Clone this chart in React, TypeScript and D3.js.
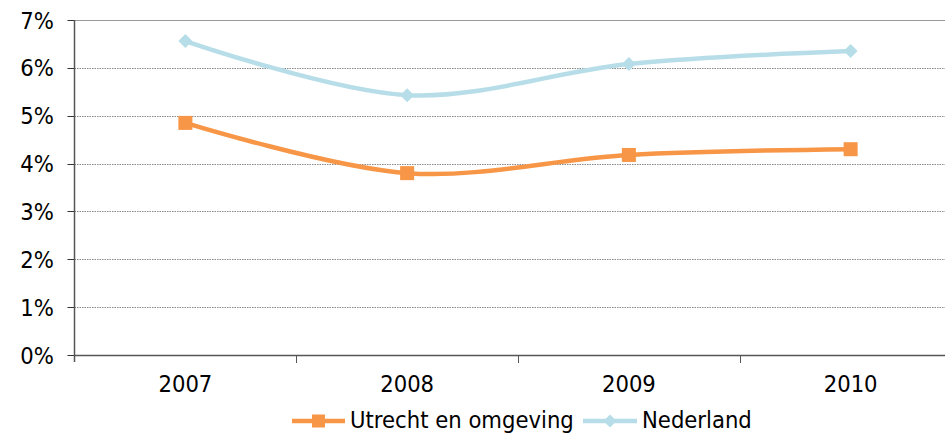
import React from "react";
import * as d3 from "d3";

const years = ["2007", "2008", "2009", "2010"];
const utrecht = [4.85, 3.8, 4.18, 4.3];
const nederland = [6.56, 5.43, 6.08, 6.35];
const yTicks = [0, 1, 2, 3, 4, 5, 6, 7];
const seriesNames = ["Utrecht en omgeving", "Nederland"];

const W = 945, H = 433;
const left = 74.5, plotRight = 961.5, top = 20, bottom = 355;
const ORANGE = "#F79646", BLUE = "#B7DEE8";
const FONT = "DejaVu Sans, Verdana, sans-serif";
const FS = 21.2;
const SY = 1.09;

function T({ x, y, anchor, children }: { x: number; y: number; anchor?: string; children: React.ReactNode }) {
  return (
    <g transform={`translate(${x},${y}) scale(1,${SY})`}>
      <text x={0} y={0} textAnchor={anchor || "start"} fontSize={FS} fill="#000">{children}</text>
    </g>
  );
}

export default function App() {
  const x = d3.scaleBand<string>().domain(years).range([left, plotRight]);
  const y = d3.scaleLinear().domain([0, 7]).range([bottom, top]);
  const cx = (d: string) => (x(d) as number) + x.bandwidth() / 2;
  const line = d3.line<number>().x((_, i) => cx(years[i])).y((v) => y(v)).curve(d3.curveCatmullRom.alpha(0.5));
  const diamond = (px: number, py: number, r: number) => `M${px},${py - r}L${px + r},${py}L${px},${py + r}L${px - r},${py}Z`;

  return (
    <svg width={W} height={H} style={{ position: "absolute", left: 0, top: 0, background: "#fff" }} fontFamily={FONT}>
      {yTicks.map((t) => (
        <g key={t}>
          {t > 0 && <line x1={left} x2={W} y1={Math.round(y(t)) + 0.5} y2={Math.round(y(t)) + 0.5} stroke={t === 7 ? "#999" : "#888"} strokeDasharray={t === 7 ? undefined : "1.5,1"} strokeWidth={1} />}
          <line x1={left - 7} x2={left} y1={Math.round(y(t)) + 0.5} y2={Math.round(y(t)) + 0.5} stroke="#333" />
          <T x={54} y={y(t) + 8.5} anchor="end">{t}%</T>
        </g>
      ))}
      <line x1={left} x2={left} y1={top} y2={bottom + 7} stroke="#555" strokeWidth={1.5} />
      <line x1={left} x2={W} y1={bottom + 0.5} y2={bottom + 0.5} stroke="#555" strokeWidth={1.5} />
      {years.map((yr, i) => (
        <g key={yr}>
          {i > 0 && <line x1={Math.round(x(yr) as number) + 0.5} x2={Math.round(x(yr) as number) + 0.5} y1={bottom} y2={bottom + 8} stroke="#555" />}
          <T x={cx(yr)} y={392} anchor="middle">{yr}</T>
        </g>
      ))}
      <path d={line(nederland) || ""} fill="none" stroke={BLUE} strokeWidth={4.5} />
      {nederland.map((v, i) => (
        <path key={i} d={diamond(cx(years[i]), y(v), 7)} fill={BLUE} />
      ))}
      <path d={line(utrecht) || ""} fill="none" stroke={ORANGE} strokeWidth={4.5} />
      {utrecht.map((v, i) => (
        <rect key={i} x={cx(years[i]) - 7} y={y(v) - 7} width={14} height={14} fill={ORANGE} />
      ))}
      <g>
        <line x1={292} x2={345} y1={421} y2={421} stroke={ORANGE} strokeWidth={4.5} />
        <rect x={312} y={414.5} width={13} height={13} fill={ORANGE} />
        <T x={350} y={427.5}>{seriesNames[0]}</T>
        <line x1={583} x2={637} y1={421} y2={421} stroke={BLUE} strokeWidth={4.5} />
        <path d={diamond(610, 421, 6.5)} fill={BLUE} />
        <T x={642} y={427.5}>{seriesNames[1]}</T>
      </g>
    </svg>
  );
}
